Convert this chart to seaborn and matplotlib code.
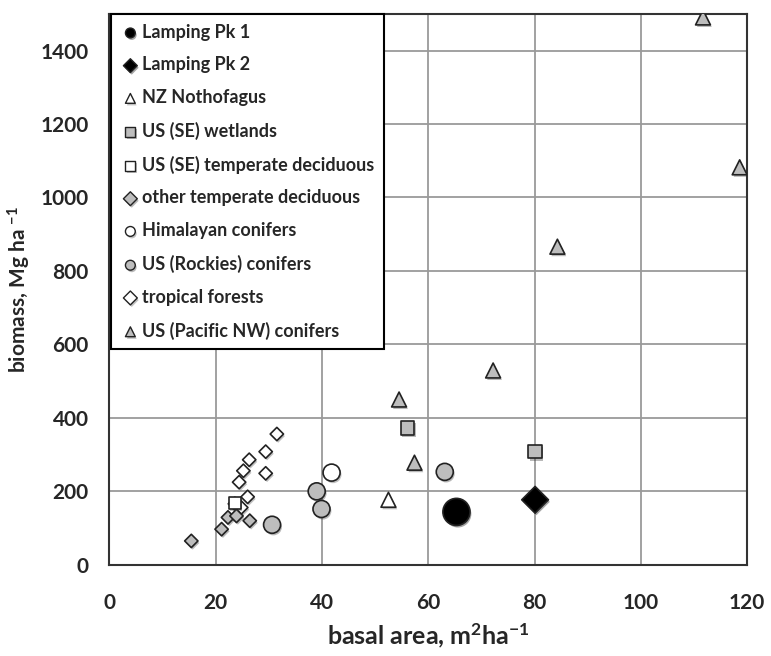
import matplotlib
matplotlib.use('Agg')
import matplotlib.pyplot as plt
import matplotlib.patheffects as pe
import numpy as np
import pandas as pd
import seaborn as sns

# Basal area (m2/ha) and biomass (Mg/ha) for each forest group
lamping1_x = [65.3]
lamping1_y = [144]
lamping2_x = [80.1]
lamping2_y = [177]
nz_x = [52.5]
nz_y = [177]
wetland_x = [56.1, 80.1]
wetland_y = [373, 308]
se_decid_x = [23.6]
se_decid_y = [168]
other_decid_x = [15.4, 21.1, 22.3, 23.9, 26.4]
other_decid_y = [65, 97, 129, 133, 120]
himalaya_x = [41.8]
himalaya_y = [251]
rockies_x = [30.6, 39.0, 39.9, 63.1]
rockies_y = [109, 200, 152, 253]
tropical_x = [31.5, 29.4, 26.3, 25.2, 29.4, 24.4, 26.0, 23.6, 24.8]
tropical_y = [356, 308, 286, 256, 249, 225, 185, 166, 156]
pacific_x = [111.7, 118.6, 84.3, 72.2, 54.5, 57.4]
pacific_y = [1490, 1082, 866, 529, 450, 278]

groups = ['Lamping Pk 1', 'Lamping Pk 2', 'NZ Nothofagus', 'US (SE) wetlands',
          'US (SE) temperate deciduous', 'other temperate deciduous',
          'Himalayan conifers', 'US (Rockies) conifers', 'tropical forests',
          'US (Pacific NW) conifers']
xs = [lamping1_x, lamping2_x, nz_x, wetland_x, se_decid_x, other_decid_x,
      himalaya_x, rockies_x, tropical_x, pacific_x]
ys = [lamping1_y, lamping2_y, nz_y, wetland_y, se_decid_y, other_decid_y,
      himalaya_y, rockies_y, tropical_y, pacific_y]

rows = []
for g, gx, gy in zip(groups, xs, ys):
    for a, b in zip(gx, gy):
        rows.append({'group': g, 'basal': a, 'biomass': b})
df = pd.DataFrame(rows)

# marker, fill colour, size for each group
grey = '#bdbdbd'
styles = {
    'Lamping Pk 1': ('o', 'black', 380),
    'Lamping Pk 2': ('D', 'black', 185),
    'NZ Nothofagus': ('^', 'white', 115),
    'US (SE) wetlands': ('s', grey, 95),
    'US (SE) temperate deciduous': ('s', 'white', 75),
    'other temperate deciduous': ('D', grey, 46),
    'Himalayan conifers': ('o', 'white', 150),
    'US (Rockies) conifers': ('o', grey, 150),
    'tropical forests': ('D', 'white', 46),
    'US (Pacific NW) conifers': ('^', grey, 115),
}

sns.set_style('whitegrid')
plt.rcParams['font.family'] = ['Lato', 'DejaVu Sans']
plt.rcParams['font.weight'] = 'bold'
plt.rcParams['mathtext.fontset'] = 'custom'
plt.rcParams['mathtext.rm'] = 'Lato:bold'
plt.rcParams['mathtext.it'] = 'Lato:bold'
plt.rcParams['mathtext.bf'] = 'Lato:bold'

fig = plt.figure(figsize=(7.71, 6.56), dpi=100)
ax = fig.add_axes([0.142, 0.139, 0.827, 0.840])

shadow = [pe.SimplePatchShadow(offset=(1, -1.5), alpha=0.35), pe.Normal()]
# draw in reverse so the Lamping points sit on top
for g in groups[::-1]:
    m, c, s = styles[g]
    sub = df[df['group'] == g]
    sns.scatterplot(data=sub, x='basal', y='biomass', marker=m, color=c, s=s,
                    edgecolor='#222222', linewidth=1.2, label=g, ax=ax,
                    zorder=3)
for coll in ax.collections:
    coll.set_path_effects(shadow)

ax.set_xlim(0, 120)
ax.set_ylim(0, 1500)
ax.set_xticks(np.arange(0, 121, 20))
ax.set_yticks(np.arange(0, 1401, 200))
ax.grid(True, color='#9a9a9a', linewidth=1.3)
ax.set_axisbelow(True)
for sp in ax.spines.values():
    sp.set_color('#333333')
    sp.set_linewidth(1.5)
ax.tick_params(axis='x', length=0, pad=20, labelsize=15)
ax.tick_params(axis='y', length=0, pad=15, labelsize=15)
ax.set_xlabel(r'basal area, m$^{2}$ha$^{\mathregular{-1}}$', fontsize=18,
              fontweight='bold', labelpad=6)
ax.set_ylabel(r'biomass, Mg ha $^{\mathregular{-1}}$', fontsize=15,
              fontweight='bold', labelpad=5)

# legend in the original order
handles, labels = ax.get_legend_handles_labels()
order = [labels.index(g) for g in groups]
leg = ax.legend([handles[i] for i in order], [labels[i] for i in order],
                loc='upper left', bbox_to_anchor=(0.003, 1.0), fancybox=False,
                framealpha=1, edgecolor='black', fontsize=13,
                labelspacing=0.87, handletextpad=0.15, handlelength=1.0,
                borderpad=0.55, borderaxespad=0)
leg.get_frame().set_linewidth(1.5)
for h in leg.legend_handles:
    h.set_sizes([50])
    h.set_linewidth(1.0)
for t in leg.get_texts():
    t.set_fontweight('bold')

plt.savefig('out.png', dpi=100)
plt.close()
